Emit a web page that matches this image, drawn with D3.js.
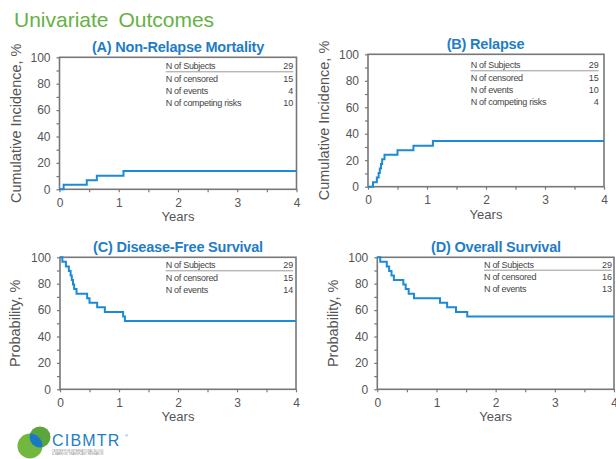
<!DOCTYPE html>
<html>
<head>
<meta charset="utf-8">
<script src="https://cdn.jsdelivr.net/npm/d3@7"></script>
<style>
  body { margin: 0; background: #fff; }
  svg { display: block; font-family: "Liberation Sans", Arial, sans-serif; }
</style>
</head>
<body>
<svg id="drawing_region"></svg>
<script>
// ---- data ----
const nrmTimes   = [0, 0.07, 0.46, 0.63, 1.08, 4];
const nrmValues  = [0, 3.4, 6.9, 10.3, 13.8, 13.8];

const relTimes   = [0, 0.085, 0.15, 0.18, 0.2, 0.22, 0.24, 0.28, 0.5, 0.77, 1.1, 4];
const relValues  = [0, 3.4, 6.9, 10.3, 13.8, 17.2, 20.7, 24.1, 27.6, 31.0, 34.5, 34.5];

const dfsTimes   = [0, 0.04, 0.1, 0.15, 0.18, 0.2, 0.22, 0.24, 0.28, 0.46, 0.5, 0.63, 0.76, 1.07, 1.1, 4];
const dfsValues  = [100, 96.6, 93.1, 89.7, 86.2, 82.8, 79.3, 75.9, 72.4, 69.0, 65.5, 62.1, 58.6, 55.2, 51.7, 51.7];

const osTimes    = [0, 0.05, 0.16, 0.2, 0.24, 0.28, 0.44, 0.48, 0.53, 0.62, 1.06, 1.18, 1.33, 1.52, 4];
const osValues   = [100, 96.6, 93.1, 89.7, 86.2, 82.8, 79.3, 75.9, 72.4, 69.0, 65.5, 62.1, 58.6, 55.2, 55.2];

const legendLabelsCI = ["N of Subjects", "N of censored", "N of events", "N of competing risks"];
const legendLabelsKM = ["N of Subjects", "N of censored", "N of events"];
const nrmCounts = [29, 15, 4, 10];
const relCounts = [29, 15, 10, 4];
const dfsCounts = [29, 15, 14];
const osCounts  = [29, 16, 13];

const yTicks = [0, 10, 20, 30, 40, 50, 60, 70, 80, 90, 100];
const yTickLabels = [0, 20, 40, 60, 80, 100];
const xTicks = [0, 0.5, 1, 1.5, 2, 2.5, 3, 3.5, 4];
const xTickLabels = [0, 1, 2, 3, 4];

const svg = d3.select('#drawing_region')
    .attr('width', 616)
    .attr('height', 459);

//Slide title
svg.append('text')
    .attr('x', 14)
    .attr('y', 27)
    .attr('fill', '#66b145')
    .style('font-size', '21px')
    .style('word-spacing', '4px')
    .text('Univariate Outcomes');

class KMPanel {
    constructor(config, times, values, labels, counts) {
        this.config = config;
        this.data = times.map((t, i) => ({t: t, v: values[i]}));
        this.labels = labels;
        this.counts = counts;
        this.init();
        this.render();
    }

    init() {
        let self = this;
        const c = self.config;

        self.xscale = d3.scaleLinear()
            .domain([0, 4])
            .range([c.left, c.right]);
        self.yscale = d3.scaleLinear()
            .domain([0, 100])
            .range([c.bottom, c.top]);

        self.g = svg.append('g');
    }

    render() {
        let self = this;
        const c = self.config;

        // title
        self.g.append('text')
            .attr('x', c.titleX)
            .attr('y', c.top - 5)
            .attr('text-anchor', 'middle')
            .attr('fill', '#1f7dc6')
            .style('font-size', '14.5px')
            .style('font-weight', 'bold')
            .style('letter-spacing', '-0.2px')
            .text(c.title);

        // axes
        const yaxis = d3.axisLeft(self.yscale)
            .tickValues(yTicks)
            .tickFormat(d => yTickLabels.includes(d) ? d : '')
            .tickSize(3)
            .tickPadding(6);
        const ya = self.g.append('g')
            .attr('transform', `translate(${c.left},0)`)
            .call(yaxis);

        const xaxis = d3.axisBottom(self.xscale)
            .tickValues(xTicks)
            .tickFormat(d => xTickLabels.includes(d) ? d : '')
            .tickSize(3)
            .tickPadding(6);
        const xa = self.g.append('g')
            .attr('transform', `translate(0,${c.bottom})`)
            .call(xaxis);

        [ya, xa].forEach(a => {
            a.select('.domain').remove();
            a.selectAll('line').attr('stroke', '#777').attr('stroke-width', 1.2);
            a.selectAll('text')
                .attr('fill', '#555')
                .style('font-size', '12px')
                .style('font-family', '"Liberation Sans", Arial, sans-serif');
        });

        // frame
        self.g.append('rect')
            .attr('x', c.left)
            .attr('y', c.top)
            .attr('width', c.right - c.left)
            .attr('height', c.bottom - c.top)
            .attr('fill', 'none')
            .attr('stroke', '#777')
            .attr('stroke-width', 1.6);

        // axis labels
        self.g.append('text')
            .attr('transform', `translate(${c.ylabX},${(c.top + c.bottom) / 2}) rotate(-90)`)
            .attr('text-anchor', 'middle')
            .attr('fill', '#555')
            .style('font-size', '14.5px')
            .text(c.ylabel);

        self.g.append('text')
            .attr('x', (c.left + c.right) / 2)
            .attr('y', c.bottom + 32)
            .attr('text-anchor', 'middle')
            .attr('fill', '#555')
            .style('font-size', '13px')
            .text('Years');

        // step curve
        const line = d3.line()
            .x(d => self.xscale(d.t))
            .y(d => self.yscale(d.v))
            .curve(d3.curveStepAfter);

        self.g.append('path')
            .datum(self.data)
            .attr('d', line)
            .attr('fill', 'none')
            .attr('stroke', '#1b8ad8')
            .attr('stroke-width', 2);

        // counts table
        const rows = self.g.selectAll('.row')
            .data(self.labels)
            .enter()
            .append('g')
            .attr('transform', (d, i) => `translate(0,${c.legY + i * 12.3})`);

        rows.append('text')
            .attr('x', c.legX1)
            .attr('fill', '#444')
            .style('font-size', '9px')
            .style('letter-spacing', '-0.3px')
            .text(d => d);

        rows.append('text')
            .attr('x', c.legX2)
            .attr('text-anchor', 'end')
            .attr('fill', '#444')
            .style('font-size', '9px')
            .text((d, i) => self.counts[i]);

        self.g.append('line')
            .attr('x1', c.legX1)
            .attr('x2', c.legX2)
            .attr('y1', c.legY + 2.5)
            .attr('y2', c.legY + 2.5)
            .attr('stroke', '#999')
            .attr('stroke-width', 1);
    }
}

new KMPanel({title: '(A) Non-Relapse Mortality', titleX: 178, ylabel: 'Cumulative Incidence, %', ylabX: 21,
    left: 59.5, right: 296.5, top: 57.3, bottom: 189.3, legX1: 165.7, legX2: 293.3, legY: 69.3},
    nrmTimes, nrmValues, legendLabelsCI, nrmCounts);

new KMPanel({title: '(B) Relapse', titleX: 485.5, ylabel: 'Cumulative Incidence, %', ylabX: 329,
    left: 368, right: 604, top: 54.3, bottom: 186.7, legX1: 470.7, legX2: 598.7, legY: 68.3},
    relTimes, relValues, legendLabelsCI, relCounts);

new KMPanel({title: '(C) Disease-Free Survival', titleX: 178, ylabel: 'Probability, %', ylabX: 20,
    left: 60, right: 296, top: 257.3, bottom: 389.3, legX1: 165.7, legX2: 293.3, legY: 268.3},
    dfsTimes, dfsValues, legendLabelsKM, dfsCounts);

new KMPanel({title: '(D) Overall Survival', titleX: 496, ylabel: 'Probability, %', ylabX: 338,
    left: 377.3, right: 614, top: 257.3, bottom: 389.3, legX1: 484, legX2: 612, legY: 267.7},
    osTimes, osValues, legendLabelsKM, osCounts);

// CIBMTR logo
const logo = svg.append('g');
const defs = svg.append('defs');
defs.append('clipPath').attr('id', 'clipC2')
    .append('circle').attr('cx', 40).attr('cy', 437).attr('r', 10.5);
logo.append('circle').attr('cx', 40).attr('cy', 437).attr('r', 10.5).attr('fill', '#5aa53c');
logo.append('circle').attr('cx', 30).attr('cy', 446).attr('r', 12.5).attr('fill', '#72b83f');
logo.append('circle').attr('cx', 30).attr('cy', 446).attr('r', 12.5)
    .attr('fill', '#1b78c2').attr('clip-path', 'url(#clipC2)');
logo.append('text').attr('x', 52).attr('y', 446)
    .attr('fill', '#1f7dc6').style('font-size', '16px').style('letter-spacing', '1.2px')
    .text('CIBMTR');
logo.append('text').attr('x', 125).attr('y', 437)
    .attr('fill', '#1f7dc6').style('font-size', '4px').text('®');
logo.append('text').attr('x', 52).attr('y', 451.5)
    .attr('fill', '#888').style('font-size', '2.8px')
    .text('CENTER FOR INTERNATIONAL BLOOD');
logo.append('text').attr('x', 52).attr('y', 455)
    .attr('fill', '#888').style('font-size', '2.8px')
    .text('& MARROW TRANSPLANT RESEARCH');
</script>
</body>
</html>
